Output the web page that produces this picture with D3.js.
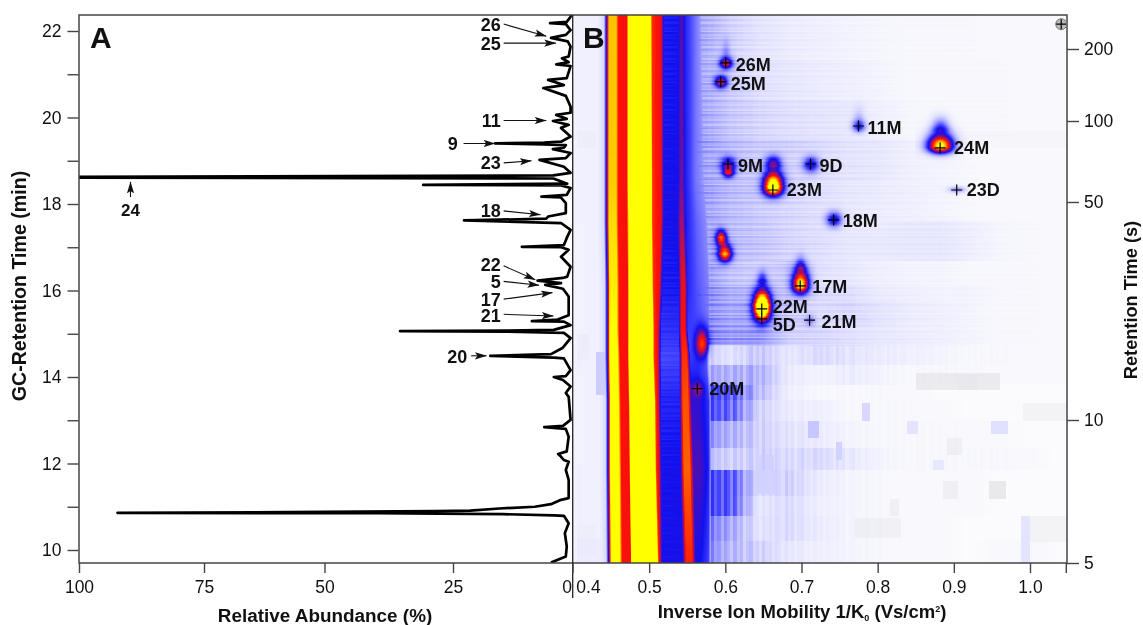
<!DOCTYPE html>
<html><head><meta charset="utf-8">
<script src="https://cdn.jsdelivr.net/npm/d3@7/dist/d3.min.js"></script>
<style>
html,body{margin:0;padding:0;background:#fff;}
#wrap{position:relative;width:1143px;height:625px;overflow:hidden;}
canvas{position:absolute;left:573px;top:15px;filter:blur(0.6px);}
svg{position:absolute;left:0;top:0;}
text{font-family:"Liberation Sans",Arial,sans-serif;fill:#111;}
</style></head><body><div id="wrap"><canvas id="cv" width="494" height="548"></canvas><svg id="sv" width="1143" height="625"></svg></div>
<script>
// ---------- Panel A: chromatogram (GC minute, relative abundance %)
const traceMin=[9.71,9.85,10.08,10.39,10.62,10.79,10.80,10.83,10.85,10.86,10.88,10.90,10.91,10.96,11.0,11.06,11.16,11.2,11.62,11.85,12.04,12.08,12.18,12.22,12.28,12.62,12.8,12.84,12.87,13.01,13.54,13.63,13.78,13.93,14.0,14.02,14.16,14.43,14.45,14.49,14.51,14.53,14.67,14.9,15.02,15.05,15.06,15.07,15.09,15.2,15.28,15.29,15.33,15.43,15.86,16.04,16.13,16.17,16.23,16.29,16.32,16.55,16.78,16.94,17.0,17.01,17.05,17.24,17.4,17.56,17.62,17.66,17.71,17.79,18.02,18.15,18.17,18.21,18.37,18.43,18.44,18.47,18.59,18.61,18.63,18.66,18.72,18.86,19.02,19.06,19.18,19.27,19.3,19.36,19.38,19.40,19.42,19.44,19.56,19.76,19.83,19.92,19.97,20.06,20.11,20.25,20.5,20.68,20.75,20.87,20.91,21.19,21.23,21.28,21.37,21.41,21.64,21.76,21.84,21.91,22.02,22.16,22.18,22.21,22.33,22.37];
const traceAbund=[4.5,1.4,1.2,1.6,0.8,1.8,3.9,14.6,40,92.3,50,28.2,21.4,15.3,7.9,4.5,2.4,0.8,0.8,1.4,0.8,1.8,2.6,3.0,1.2,0.8,1.4,5.9,2,0.4,0.8,1.4,0.4,2,3.9,1.4,0.4,1.8,3.9,17.2,10,4.5,2.1,0.4,1.8,14,35.3,14,3.9,0.4,1.8,8.5,3.1,0.8,0.8,2,5.7,2.4,7.3,2,1.1,0.4,2.4,0.8,2.4,10.6,1.8,1.1,0.4,2.4,22.7,5.5,5.1,1.4,1.4,2.4,6.5,1.2,0.4,2.4,30.8,1.1,4,101,101,4,0.4,1.8,6.9,1.4,0.4,4.1,1.8,1.4,6,16.2,6,2.4,0.4,2.4,0.8,4.1,1.2,3.4,0.4,0.4,1.4,6.1,1.8,5.1,1.2,0.4,3.4,0.8,2.2,0.8,0.4,1,4.5,1.4,0.4,1.4,4.7,1.2,0.4,0.4];
// arrows on panel A: label, label position, tail and tip (abundance %, minute)
const annLabel=["26","25","11","9","23","18","22","5","17","21","20"];
const annTextA=[15,15,15,24,15,15,15,15,15,15,22];
const annTextT=[22.16,21.72,19.93,19.40,18.96,17.86,16.59,16.2,15.78,15.41,14.47];
const annTailA=[14.4,14.4,14.4,22.8,14.4,14.4,14.4,14.4,14.4,14.4,21.2];
const annTailT=[22.16,21.72,19.93,19.40,18.95,17.84,16.57,16.21,15.8,15.45,14.49];
const annTipA=[5.5,3.5,5.5,16.2,8.6,6.7,7.8,7,4.2,4,18];
const annTipT=[21.88,21.72,19.93,19.40,19.0,17.75,16.25,16.12,15.95,15.41,14.49];
// ---------- Panel B: annotated ions
const ionName=["26M","25M","11M","24M","9M","9D","23M","23D","18M","17M","22M","5D","21M","20M"];
const ionMobility=[0.6005,0.5939,0.7748,0.882,0.6035,0.7119,0.6624,0.9038,0.7422,0.6983,0.6478,0.6478,0.7106,0.5632];
const ionSeconds=[175,146,95.8,79.4,69.2,69.2,55.4,55.4,43.8,26.9,22.7,21.1,20.9,12.6];
const refMobility=1.041, refSeconds=254;
// Peak table: mobility, seconds, intensity (0..1 colour scale) and spreads
const spotM=[0.6005,0.6005,0.5939,0.7748,0.7748,0.882,0.882,0.6035,0.6035,0.6624,0.6624,0.7119,0.9038,0.7422,0.5939,0.599,0.6983,0.6983,0.6478,0.6478,0.7106,0.5632,0.569];
const spotS=[175,195,146,95.8,103,81,94,69.2,64.5,70,57,69.2,55.8,44,38.5,34.2,27.2,31,23,28,20.9,12.6,17.6];
const spotI=[0.56,0.1,0.54,0.36,0.08,1.02,0.28,0.38,0.44,0.36,1.12,0.38,0.2,0.4,0.62,0.74,0.92,0.22,1.28,0.24,0.14,0.18,0.48];
const spotSX=[4.5,3,4.5,4.5,4,9,6,5.5,4,5.5,6.8,5.5,6,5.5,3.8,4.8,5.8,3.5,5.8,3.5,3.5,4,4.4];
const spotSU=[4.5,9,4.5,4.5,9,9,8,5.5,3.5,5.5,11,5.5,2.2,5.5,5.5,6.5,11,7,12,7,4,5,11];
const spotSD=[4,3,4,4,3,5,3,5.5,3.5,4,6,5.5,2.2,5,5,5.5,6,3,9,3,4,5,9];
// Ridge table, by GC minute: mobility of each feature of the solvent/background bands
const ridgeMin=[22.37,18.55,17.6,16.13,15.09,14.5,13.47,11.85,9.7];
const edgeM=[0.444,0.444,0.444,0.445,0.445,0.445,0.446,0.446,0.447];
const peak1I=[0.93,0.94,0.96,0.98,1,1,1,1,1];
const dipAM=[0.459,0.459,0.459,0.460,0.460,0.461,0.462,0.463,0.464];
const dipBM=[0.470,0.470,0.470,0.471,0.471,0.471,0.472,0.473,0.475];
const coreAM=[0.472,0.472,0.473,0.473,0.473,0.473,0.474,0.475,0.476];
const coreBM=[0.501,0.502,0.502,0.503,0.504,0.504,0.506,0.507,0.510];
const redEndM=[0.515,0.515,0.515,0.513,0.511,0.511,0.511,0.512,0.513];
const blueI=[0.4,0.42,0.42,0.4,0.36,0.32,0.38,0.42,0.42];
const ridge2M=[0.542,0.542,0.542,0.544,0.544,0.546,0.547,0.549,0.552];
const ridge2W=[0.0026,0.0026,0.0033,0.0039,0.0039,0.0052,0.0059,0.0066,0.0066];
const ridge2I=[0.5,0.54,0.6,0.68,0.72,0.76,0.8,0.82,0.74];
const ridge3M=[0.560,0.560,0.562,0.563,0.563,0.562,0.565,0.566,0.567];
const ridge3I=[0.26,0.26,0.28,0.3,0.32,0.34,0.46,0.5,0.42];
const ridge3End=[0.566,0.570,0.574,0.577,0.577,0.574,0.577,0.577,0.577];
// Diffuse background, coarse table (rows: upper minute of band; columns: mobility)
const hazeMobility=[0.566,0.605,0.644,0.683,0.723,0.762,0.801,0.84,0.88,0.919,0.958,0.998,1.037];
const hazeBandTop=[22.37,21.33,20.4,19.48,18.55,17.63,16.7,16.13,15.78,15.2,14.74,14.28,13.82,13.47,13.0,12.38,11.85,11.27,10.8,10.23];
const haze=[
[.18,.10,.06,.04,.03,.02,.015,.01,.01,.01,.005,.005,.005],
[.18,.11,.07,.05,.04,.03,.02,.01,.01,.01,.01,.005,.005],
[.19,.12,.09,.07,.06,.05,.03,.015,.01,.01,.01,.005,.005],
[.20,.14,.11,.10,.08,.06,.05,.03,.02,.01,.005,.005,.005],
[.20,.14,.11,.09,.07,.05,.04,.03,.02,.01,.005,.005,.005],
[.20,.14,.12,.09,.07,.05,.045,.05,.05,.035,.015,.01,.005],
[.22,.13,.10,.12,.07,.05,.03,.02,.02,.01,.01,.01,.005],
[.24,.16,.14,.12,.08,.07,.04,.03,.02,.02,.01,.01,.005],
[.24,.18,.18,.12,.08,.09,.06,.04,.03,.02,.01,.01,.005],
[.25,.20,.20,.10,.09,.07,.05,.04,.03,.02,.01,.01,.005],
[.12,.06,.12,.05,.08,.06,.04,.03,.02,.01,.01,.005,.005],
[.18,.16,.16,.04,.02,.04,.02,.01,.01,.01,.005,.005,.005],
[.30,.30,.14,.03,.01,.01,.01,.005,0,0,0,0,0],
[.30,.28,.10,.04,.03,.01,.01,.01,.005,0,0,0,0],
[.22,.16,.10,.06,.04,.02,.01,.01,.01,.005,.005,0,0],
[.14,.10,.10,.08,.08,.05,.02,.01,.01,.01,.01,.005,0],
[.30,.30,.08,.10,.04,.02,.01,.005,.005,.005,0,0,0],
[.30,.30,.05,.08,.03,.02,.01,.005,.005,.005,0,0,0],
[.26,.18,.06,.08,.04,.02,.01,.005,.005,0,0,0,0],
[.25,.15,.10,.05,.03,.02,.01,.005,.005,0,.005,.01,0]];
// Streak texture estimated by eye: along time rows, along mobility columns
const rowStreak=[1,.85,1.15,.95,.8,1.1,1.2,.9,1,.75,1.2,.95,1.05,.85,1.25,1,.9,1.15,.8,1.05,1.2,.95,.85,1.1,1.05,.8,1.15,.9,1.2,1];
const colStreak=[1,.8,1.2,.9,1.15,.75,1.05,1.25,.85,1,.8,1.2,.95,1.1,.85,1.15];
// Small rectangular blue and grey patches (mobility from, to, minute from, to, level)
const bluePatch=[
[.640,.663,11.85,12.2,.1],[.708,.722,12.6,13.0,.12],[.745,.752,12.1,12.5,.1],[.779,.789,13.0,13.4,.09],
[.838,.852,12.7,13.0,.06],[.948,.970,12.7,13.0,.07],[.872,.887,11.85,12.1,.05],[.988,1.0,9.7,10.8,.06],
[.640,.665,11.3,11.85,.1],[.405,.44,14.2,14.7,.03],[.43,.442,13.6,14.6,.11],[.405,.44,10.3,12,.025],[.405,.44,9.7,10.3,.04]];
const greyPatch=[
[.77,.83,10.3,10.75,.035],[.945,.968,11.2,11.6,.07],[.885,.905,11.2,11.6,.04],[.815,.828,10.8,11.2,.04],
[.89,.91,12.2,12.6,.04],[.85,.96,13.7,14.1,.06],[.905,.93,13.72,14.05,.07],[.99,1.05,13.0,13.4,.03],
[1.0,1.05,10.2,10.8,.03],[.405,.43,19.3,19.7,.02],[.405,.42,14.4,15,.025],[.405,.43,9.9,10.6,.015],[.86,1.05,19.3,19.7,.012]];
// axis tick labels
const abundTicks=[100,75,50,25,0];
const minuteTicks=[10,11,12,13,14,15,16,17,18,19,20,21,22];
const mobilityTicks=[0.4,0.5,0.6,0.7,0.8,0.9,1.0,1.047];
const secondTicks=[200,100,50,10,5];

// ---------- scales
const xA=d3.scaleLinear().domain(abundTicks).range([79,204,324.5,453,572.5]).clamp(false);
const yMin=d3.scaleLinear().domain([10,22]).range([550,31]);
const xB=d3.scaleLinear().domain([0.4,1.0]).range([573,1030]);
const ySec=d3.scaleLog().domain([5,10,50,100,200]).range([563,420,202,121,49]);
const colorStops=[[0,"#fbfbfd"],[.08,"#dcdcff"],[.2,"#9c9cff"],[.33,"#4040ff"],[.42,"#1010f0"],[.5,"#4a10b8"],[.58,"#86108c"],[.66,"#e01020"],[.72,"#ff1008"],[.8,"#ff5000"],[.9,"#ffa800"],[1,"#ffff00"]];
const color=d3.scaleLinear().domain(colorStops.map(d=>d[0])).range(colorStops.map(d=>d[1])).clamp(true);
const lut=d3.range(513).map(i=>d3.rgb(color(i/512)));

// ---------- heatmap
(function(){
 const c=document.getElementById("cv"),ctx=c.getContext("2d"),W=c.width,H=c.height,img=ctx.createImageData(W,H);
 const at=(arr)=>d3.scaleLinear().domain(ridgeMin).range(arr);
 const E=at(edgeM),PI=at(peak1I),DA=at(dipAM),DB=at(dipBM),CA=at(coreAM),CB=at(coreBM),RE=at(redEndM),BL=at(blueI),R2=at(ridge2M),RW=at(ridge2W),RI=at(ridge2I),R3=at(ridge3M),R3I=at(ridge3I),R3E=at(ridge3End);
 const spots=spotM.map((m,i)=>({x:xB(m),y:ySec(spotS[i]),a:spotI[i],sx:spotSX[i],su:spotSU[i],sd:spotSD[i]}));
 const bandOf=t=>{let k=0;for(let i=0;i<hazeBandTop.length;i++){if(t<=hazeBandTop[i])k=i;}return k;};
 const hazeScales=haze.map(r=>d3.scaleLinear().domain(hazeMobility).range(r));
 const p2m=d3.range(W).map(i=>xB.invert(i+573));
 for(let j=0;j<H;j++){
  const y=j+15,t=yMin.invert(y),e=E(t),pi=PI(t),bl=BL(t),r2=R2(t),w=RW(t),r3=R3(t),r3i=R3I(t),da=DA(t);
  const st=rowStreak[Math.floor(j/1.7)%rowStreak.length];
  const knots=[[.40,.02],[e-.012,.03],[e-.004,.09],[e,.55],[e+.0025,pi],[da-.003,pi],[da,.72],[DB(t),.70],[CA(t),1.05],[CB(t),1.05],[CB(t)+.002,.76],[RE(t),.68],[RE(t)+.004,bl*(.8+.2*st)],[r2-w-.002,bl*(.88+.14*st)],[r2-w*.6,RI(t)],[r2+w*.6,RI(t)],[r2+w+.002,Math.max(r3i,bl*.96)],[Math.max(r3,r2+w+.003),r3i],[R3E(t),r3i*.8],[R3E(t)+.006,0],[1.2,0]];
  const prof=d3.scaleLinear().domain(knots.map(d=>d[0])).range(knots.map(d=>d[1])).clamp(true);
  const hz=hazeScales[bandOf(t)];
  const lower=y>345;
  for(let i=0;i<W;i++){
   const m=p2m[i],x=i+573;
   let v=prof(m);
   let h=0;
   if(m>.556){
     h=hz(Math.min(m,1.037));
     const cs=colStreak[Math.floor(i/3.2)%colStreak.length];
     h*=lower?cs:st*(.9+.1*cs);
   }
   let extra=0,grey=0;
   for(const b of bluePatch){if(m>=b[0]&&m<b[1]&&t>=b[2]&&t<b[3])extra=Math.max(extra,b[4]);}
   for(const b of greyPatch){if(m>=b[0]&&m<b[1]&&t>=b[2]&&t<b[3])grey=Math.max(grey,b[4]);}
   if(m<.556)v=Math.max(v,extra); else h=Math.max(h,extra);
   v=Math.max(v,h);
   for(const s of spots){
     const dx=x-s.x; if(dx>26||dx<-26)continue;
     const dy=y-s.y; if(dy>45||dy<-45)continue;
     const sy=dy<0?s.su:s.sd;
     v+=s.a*Math.exp(-0.5*(dx*dx/(s.sx*s.sx)+dy*dy/(sy*sy)));
   }
   const col=lut[Math.min(512,Math.round(v*512))];
   const g=v<.1?grey*(1-v/.1):0;
   const k=(j*W+i)*4;
   img.data[k]=col.r*(1-g);img.data[k+1]=col.g*(1-g);img.data[k+2]=col.b*(1-g);img.data[k+3]=255;
  }
 }
 ctx.putImageData(img,0,0);
})();

// ---------- svg overlay
const svg=d3.select("#sv");
svg.append("defs").append("clipPath").attr("id","ca").append("rect").attr("x",79).attr("y",15).attr("width",494).attr("height",548);
svg.select("defs").append("clipPath").attr("id","cb").append("rect").attr("x",573).attr("y",15).attr("width",494).attr("height",548);
svg.select("defs").append("marker").attr("id","ah").attr("viewBox","0 0 12 8").attr("refX",11.5).attr("refY",4)
 .attr("markerUnits","userSpaceOnUse").attr("markerWidth",12).attr("markerHeight",8).attr("orient","auto")
 .append("path").attr("d","M0,0.4L12,4L0,7.6L2.5,4Z").attr("fill","#111");

// trace
svg.append("path").datum(traceMin.map((t,i)=>[t,traceAbund[i]]))
 .attr("clip-path","url(#ca)")
 .attr("d",d3.line().x(d=>xA(d[1])).y(d=>yMin(d[0])))
 .attr("fill","none").attr("stroke","#000").attr("stroke-width",2.7).attr("stroke-linejoin","round");

// frame
const frameCol="#444";
svg.append("rect").attr("x",79).attr("y",15).attr("width",988).attr("height",548).attr("fill","none").attr("stroke",frameCol).attr("stroke-width",1.5);
svg.append("line").attr("x1",572.7).attr("x2",572.7).attr("y1",15).attr("y2",598).attr("stroke","#222").attr("stroke-width",1.3);

function styleAxis(g){g.select(".domain").remove();g.selectAll(".tick line").attr("stroke",frameCol).attr("stroke-width",1.4);g.selectAll(".tick text").attr("font-size",17.5).attr("fill","#111").attr("font-family",'"Liberation Sans",Arial,sans-serif');}
svg.append("g").attr("transform","translate(78.5,0)").call(d3.axisLeft(yMin).tickValues(minuteTicks).tickSize(11).tickPadding(6).tickFormat(d=>d%2===0?d:"")).call(styleAxis);
const gA=svg.append("g").attr("transform","translate(0,563)").call(d3.axisBottom(xA).tickValues(abundTicks).tickSize(10).tickPadding(8)).call(styleAxis);
gA.selectAll(".tick").filter(d=>d===0).select("text").attr("dx",-6);
const gB=svg.append("g").attr("transform","translate(0,563)").call(d3.axisBottom(xB).tickValues(mobilityTicks).tickSize(10).tickPadding(8).tickFormat(d=>d>1.01?"":d3.format(".1f")(d))).call(styleAxis);
gB.selectAll(".tick").filter(d=>d===0.4).select("text").attr("dx",15);
gB.selectAll(".tick").filter(d=>d===0.4).select("line").remove();
svg.append("g").attr("transform","translate(1067,0)").call(d3.axisRight(ySec).tickValues(secondTicks).tickSize(12).tickPadding(5).tickFormat(d=>d)).call(styleAxis);

// axis titles
const ttl=(x,y,txt,rot,fs)=>svg.append("text").attr("transform",`translate(${x},${y})`+(rot?" rotate(-90)":"")).attr("text-anchor","middle").attr("font-size",fs).attr("font-weight","bold").text(txt);
ttl(325,622,"Relative Abundance (%)",false,18.9);
ttl(26,286,"GC-Retention Time (min)",true,19.6);
ttl(1137,300,"Retention Time (s)",true,18.2);
const tb=ttl(802,618,"Inverse Ion Mobility 1/K",false,18.5);
tb.append("tspan").attr("font-size",9).attr("dy",3).text("0");
tb.append("tspan").attr("dy",-3).text(" (Vs/cm");
tb.append("tspan").attr("font-size",9).attr("dy",-6).text("2");
tb.append("tspan").attr("dy",6).text(")");

// panel letters
[["A",90],["B",583]].forEach(d=>svg.append("text").attr("x",d[1]).attr("y",48).attr("font-size",30).attr("font-weight","bold").attr("fill","#111").text(d[0]));

// panel A annotations
svg.append("g").selectAll("line").data(annLabel).join("line")
 .attr("x1",(d,i)=>xA(annTailA[i])).attr("y1",(d,i)=>yMin(annTailT[i]))
 .attr("x2",(d,i)=>xA(annTipA[i])).attr("y2",(d,i)=>yMin(annTipT[i]))
 .attr("stroke","#111").attr("stroke-width",1.1).attr("marker-end","url(#ah)");
svg.append("g").selectAll("text").data(annLabel).join("text")
 .attr("x",(d,i)=>xA(annTextA[i])).attr("y",(d,i)=>yMin(annTextT[i])).attr("dy","0.36em")
 .attr("text-anchor","end").attr("font-size",18).attr("font-weight","bold").text(d=>d);
svg.append("line").attr("x1",xA(89.7)).attr("x2",xA(89.7)).attr("y1",yMin(18.16)).attr("y2",yMin(18.51)).attr("stroke","#111").attr("stroke-width",1.1).attr("marker-end","url(#ah)");
svg.append("text").attr("x",xA(89.7)).attr("y",yMin(17.86)).attr("dy","0.36em").attr("text-anchor","middle").attr("font-size",17).attr("font-weight","bold").text("24");

// panel B reference marker
const gB2=svg.append("g").attr("clip-path","url(#cb)");
gB2.append("circle").attr("cx",xB(refMobility)).attr("cy",ySec(refSeconds)).attr("r",5.5).attr("fill","#bbb").attr("stroke","#777").attr("stroke-width",1);
const plus=(g,x,y,r)=>g.append("path").attr("d",`M${x-r},${y}H${x+r}M${x},${y-r}V${y+r}`).attr("stroke","#000").attr("stroke-width",1.2).attr("fill","none");
plus(gB2,xB(refMobility),ySec(refSeconds),5);
ionName.forEach((n,i)=>plus(svg,xB(ionMobility[i]),ySec(ionSeconds[i]),5.5));
const labelDx=[10,10,9,14,10,9,14,10,9,12,11,11,12,12];
const labelDy=[2,2,2,0,1,1,0,0,1,1,-2,6,1,0];
svg.append("g").selectAll("text").data(ionName).join("text")
 .attr("x",(d,i)=>xB(ionMobility[i])+labelDx[i]).attr("y",(d,i)=>ySec(ionSeconds[i])+labelDy[i]).attr("dy","0.36em")
 .attr("font-size",18).attr("font-weight","bold").text(d=>d);
</script></body></html>
